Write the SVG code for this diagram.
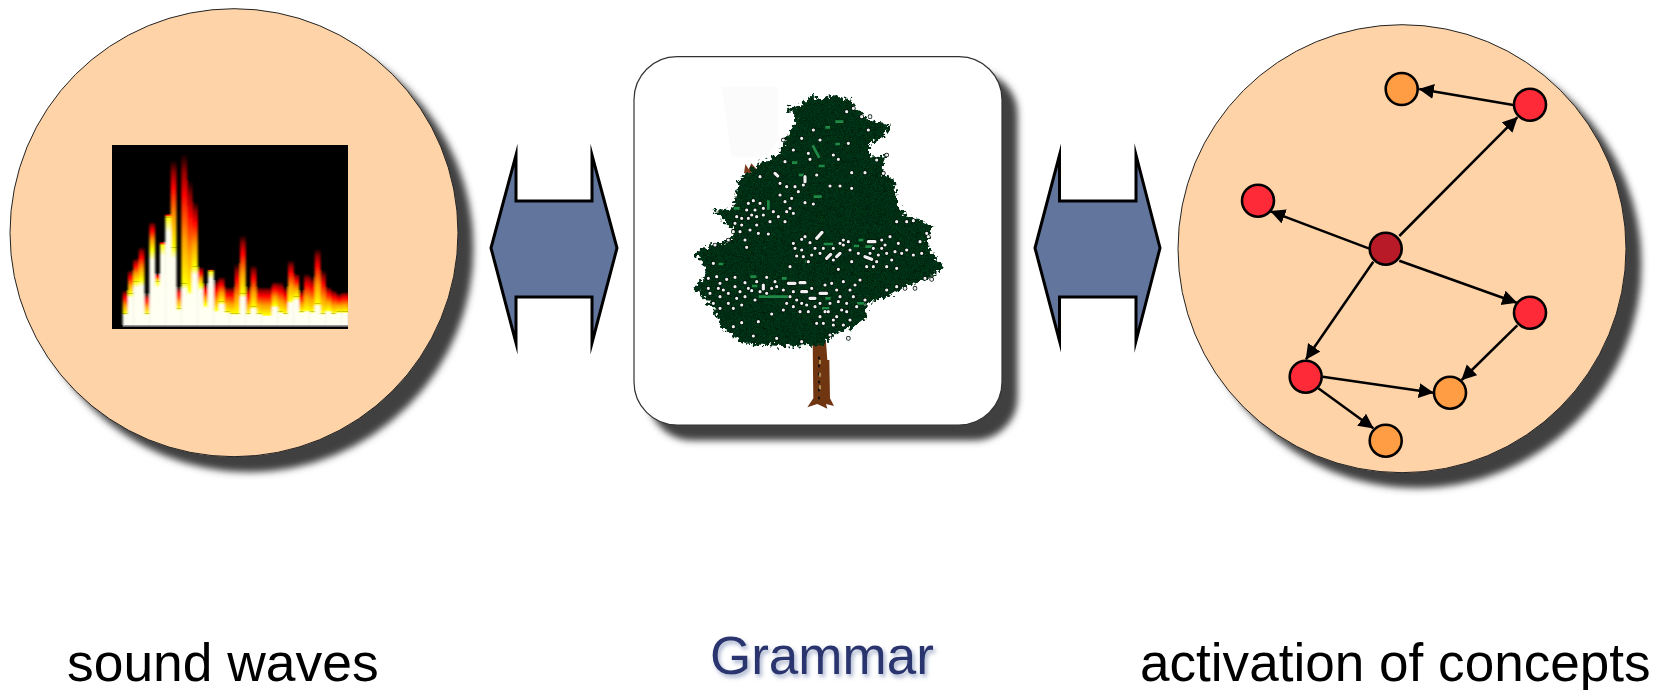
<svg xmlns="http://www.w3.org/2000/svg" width="1658" height="690" viewBox="0 0 1658 690">
<style>
.big{fill:#FFD3A8;stroke:#222;stroke-width:1;filter:url(#shadow)}
.dbl{fill:#62759C;stroke:#000;stroke-width:3;stroke-miterlimit:20}
.red{fill:#FF2A38;stroke:#000;stroke-width:2.6}
.org{fill:#FF9D45;stroke:#000;stroke-width:2.6}
.dark{fill:#B81A28;stroke:#000;stroke-width:2.6}
.con line{stroke:#000;stroke-width:2.5;marker-end:url(#tip)}
.lab{font-family:"Liberation Sans",Arial,sans-serif;fill:#000}
.f{fill:url(#fade);width:17.5px;mix-blend-mode:lighten}
.w{fill:url(#hot);width:17.5px;mix-blend-mode:lighten}
</style>
<defs>
<filter id="shadow" x="-10%" y="-10%" width="125%" height="125%"><feDropShadow dx="15" dy="15" stdDeviation="3.6" flood-color="#3f3f3f"/></filter>
<filter id="tshadow" x="-10%" y="-20%" width="120%" height="150%"><feDropShadow dx="2" dy="3" stdDeviation="2" flood-color="#7f8fb5" flood-opacity=".7"/></filter>
<filter id="soft" x="-2%" y="-2%" width="104%" height="104%"><feGaussianBlur stdDeviation="2.4 1.6"/></filter>
<filter id="rough" x="-5%" y="-5%" width="110%" height="110%"><feTurbulence type="fractalNoise" baseFrequency=".09" numOctaves="2" seed="4" result="n"/><feDisplacementMap in="SourceGraphic" in2="n" scale="34" xChannelSelector="R" yChannelSelector="G"/></filter>
<linearGradient id="fade" x1="0" y1="0" x2="0" y2="1"><stop offset="0" stop-color="#000"/><stop offset=".14" stop-color="#900000"/><stop offset=".32" stop-color="#f00"/><stop offset=".66" stop-color="#ffa000"/><stop offset="1" stop-color="#ff0"/></linearGradient>
<linearGradient id="hot" x1="0" y1="0" x2="0" y2="1"><stop offset="0" stop-color="#ff0"/><stop offset=".14" stop-color="#fffff0"/><stop offset="1" stop-color="#fffff4"/></linearGradient>
<pattern id="leaf" width="8" height="8" patternUnits="userSpaceOnUse"><rect width="8" height="8" fill="#04401c"/><rect width="4" height="4" fill="#011a0a"/><rect x="4" y="4" width="4" height="4" fill="#011a0a"/></pattern>
<marker id="tip" markerUnits="userSpaceOnUse" markerWidth="16" markerHeight="16" refX="14.5" refY="7.5" orient="auto"><path d="M0 0L15 7.5L0 15z" fill="#000"/></marker>
<path id="dots" fill="none" stroke-linecap="round" d="M580 270h.1M545 295h.1M565 340h.1M570 358h.1M520 330h.1M600 300h.1M640 345h.1M655 358h.1M685 310h.1M695 398h.1M735 398h.1M590 405h.1M555 410v15M495 365h.1M465 400l8 8M420 410h.1M480 430h.1M500 440h.1M525 440h.1M550 435h.1M535 455h.1M630 438h.1M660 438h.1M695 445h.1M515 475h.1M480 465h.1M555 488h.1M580 492h.1M495 485h.1M510 505h.1M520 520h.1M400 482h.1M420 490h.1M380 510h.1M405 510h.1M430 505h.1M350 530h.1M365 535h.1M385 535h.1M410 530h.1M430 525h.1M475 530h.1M495 545h.1M345 550h.1M365 555h.1M410 555h.1M390 570h.1M415 580h.1M445 582h.1M360 575h.1M375 600h.1M380 622h.1M325 600h.1M285 615h.1M545 598h.1M570 608h.1M590 595l16-18M545 630h.1M525 625h.1M530 648h.1M550 650h.1M575 645h.1M600 640h.1M620 655l12-12M650 650l10-10M610 625h.1M640 625h.1M670 600h.1M690 630h.1M670 615h.1M745 605h20M785 600h.1M810 590h.1M795 615h.1M760 625h.1M735 650l20 8M775 645h.1M800 640h.1M825 635h.1M845 640h.1M880 645h.1M770 665h.1M800 680h.1M830 685h.1M655 688h.1M740 680h.1M695 665h.1M510 680h.1M635 730h.1M280 670h.1M265 715h.1M290 710h.1M320 718h.1M345 712h.1M375 728h.1M345 740h.1M325 760h.1M295 745h.1M270 760h.1M300 770h.1M375 770h.1M350 775h.1M325 790h.1M280 790h.1M300 805h.1M410 725h.1M440 712h.1M465 725h.1M505 730h20M540 728h15M430 735v12M455 745h.1M490 750h.1M520 755h.1M545 755h15M395 752h.1M420 755h.1M570 775h15M600 760h20M650 750h.1M690 750h.1M720 720h.1M500 790h.1M520 800h.1M545 790h.1M540 815h.1M565 815h.1M600 790h.1M630 790h.1M655 785h.1M680 790h.1M600 830h.1M625 815h.1M650 830h.1M680 815h.1M610 850h.1M640 855h.1M670 855h.1M690 840h.1M455 822h.1M365 848h.1M340 860h.1M400 888h.1M470 895h.1M545 905h.1M630 885h.1M685 895h.1M735 780h.1M800 750h.1M830 740h.1M855 745h.1M885 745h.1M915 715h.1M935 718h.1M920 580h.1M900 605h.1M925 590h.1M880 542h.1M860 545h.1M830 545h.1M790 400h.1M800 345h.1M770 360h.1M725 230h.1M750 230h.1M745 270h.1M680 215h.1M700 205h.1M490 300h.1M385 490h.1M395 525h.1M450 545h.1M340 575h.1M460 515h.1M500 515h.1M555 590h.1M585 625h.1M520 610h.1M565 665h.1M640 660h.1M660 610h.1M685 605h.1M715 640h.1M750 640h.1M785 625h.1M815 660h.1M760 680h.1M835 610h.1M860 630h.1M905 640h.1M300 730h.1M265 745h.1M310 750h.1M360 755h.1M385 745h.1M405 780h.1M365 795h.1M340 805h.1M440 760h.1M470 740h.1M510 770h.1M530 780h.1M560 795h.1M585 800h.1M615 815h.1M575 745h.1M615 735h.1M660 770h.1M700 770h.1M710 800h.1M665 810h.1M640 840h.1M590 850h.1M705 735h.1M670 725h.1M490 810h.1M415 845h.1"/>
</defs>

<g id="sound-node">
<circle class="big" cx="234" cy="232.7" r="224"/>
<rect x="112" y="145" width="236" height="184" fill="#000"/>
<clipPath id="specClip"><rect x="-1" y="0" width="745" height="597"/></clipPath>
<g transform="translate(100 130) scale(.33333)" clip-path="url(#specClip)"><g filter="url(#soft)">
<rect class="f" x="68" y="480" width="16" height="70"/><rect class="w" x="68" y="550" width="16" height="35"/>
<rect class="f" x="84" y="420" width="16" height="70"/><rect class="w" x="84" y="490" width="16" height="95"/>
<rect class="f" x="100" y="385" width="16" height="70"/><rect class="w" x="100" y="455" width="16" height="130"/>
<rect class="f" x="116" y="350" width="16" height="100"/><rect class="w" x="116" y="450" width="16" height="135"/>
<rect class="f" x="132" y="490" width="16" height="60"/><rect class="w" x="132" y="550" width="16" height="35"/>
<rect class="f" x="148" y="275" width="16" height="85"/><rect class="w" x="148" y="360" width="16" height="225"/>
<rect class="f" x="164" y="430" width="16" height="25"/><rect class="w" x="164" y="455" width="16" height="130"/>
<rect class="f" x="180" y="335" width="16" height="12"/><rect class="w" x="180" y="345" width="16" height="240"/>
<rect class="f" x="196" y="252" width="16" height="10"/><rect class="w" x="196" y="262" width="16" height="323"/>
<rect class="f" x="212" y="90" width="16" height="262"/><rect class="w" x="212" y="352" width="16" height="233"/>
<rect class="f" x="228" y="470" width="16" height="65"/><rect class="w" x="228" y="535" width="16" height="50"/>
<rect class="f" x="244" y="70" width="16" height="390"/><rect class="w" x="244" y="460" width="16" height="125"/>
<rect class="f" x="260" y="150" width="16" height="330"/><rect class="w" x="260" y="480" width="16" height="105"/>
<rect class="f" x="276" y="215" width="16" height="195"/><rect class="w" x="276" y="410" width="16" height="175"/>
<rect class="f" x="292" y="410" width="16" height="55"/><rect class="w" x="292" y="465" width="16" height="120"/>
<rect class="f" x="308" y="460" width="16" height="65"/><rect class="w" x="308" y="525" width="16" height="60"/>
<rect class="f" x="324" y="418" width="16" height="6"/><rect class="w" x="324" y="424" width="16" height="161"/>
<rect class="f" x="340" y="450" width="16" height="90"/><rect class="w" x="340" y="540" width="16" height="45"/>
<rect class="f" x="356" y="440" width="16" height="75"/><rect class="w" x="356" y="515" width="16" height="70"/>
<rect class="f" x="372" y="470" width="16" height="75"/><rect class="w" x="372" y="545" width="16" height="40"/>
<rect class="f" x="388" y="470" width="16" height="80"/><rect class="w" x="388" y="550" width="16" height="35"/>
<rect class="f" x="404" y="400" width="16" height="150"/><rect class="w" x="404" y="550" width="16" height="35"/>
<rect class="f" x="420" y="315" width="16" height="175"/><rect class="w" x="420" y="490" width="16" height="95"/>
<rect class="f" x="436" y="470" width="16" height="80"/><rect class="w" x="436" y="550" width="16" height="35"/>
<rect class="f" x="452" y="405" width="16" height="125"/><rect class="w" x="452" y="530" width="16" height="55"/>
<rect class="f" x="468" y="470" width="16" height="80"/><rect class="w" x="468" y="550" width="16" height="35"/>
<rect class="f" x="484" y="470" width="16" height="85"/><rect class="w" x="484" y="555" width="16" height="30"/>
<rect class="f" x="500" y="470" width="16" height="85"/><rect class="w" x="500" y="555" width="16" height="30"/>
<rect class="f" x="516" y="455" width="16" height="70"/><rect class="w" x="516" y="525" width="16" height="60"/>
<rect class="f" x="532" y="455" width="16" height="90"/><rect class="w" x="532" y="545" width="16" height="40"/>
<rect class="f" x="548" y="470" width="16" height="80"/><rect class="w" x="548" y="550" width="16" height="35"/>
<rect class="f" x="564" y="390" width="16" height="120"/><rect class="w" x="564" y="510" width="16" height="75"/>
<rect class="f" x="580" y="430" width="16" height="70"/><rect class="w" x="580" y="500" width="16" height="85"/>
<rect class="f" x="596" y="480" width="16" height="65"/><rect class="w" x="596" y="545" width="16" height="40"/>
<rect class="f" x="612" y="430" width="16" height="110"/><rect class="w" x="612" y="540" width="16" height="45"/>
<rect class="f" x="628" y="440" width="16" height="105"/><rect class="w" x="628" y="545" width="16" height="40"/>
<rect class="f" x="644" y="355" width="16" height="165"/><rect class="w" x="644" y="520" width="16" height="65"/>
<rect class="f" x="660" y="420" width="16" height="130"/><rect class="w" x="660" y="550" width="16" height="35"/>
<rect class="f" x="676" y="470" width="16" height="70"/><rect class="w" x="676" y="540" width="16" height="45"/>
<rect class="f" x="692" y="480" width="16" height="70"/><rect class="w" x="692" y="550" width="16" height="35"/>
<rect class="f" x="708" y="490" width="16" height="55"/><rect class="w" x="708" y="545" width="16" height="40"/>
<rect class="f" x="724" y="485" width="22" height="60" style="width:24px"/><rect class="w" x="724" y="545" width="22" height="40" style="width:24px"/>
</g>
<rect x="68" y="585" width="676" height="6" fill="#9a9a9a"/>
<rect x="68" y="590" width="676" height="7" fill="#000"/>
</g>
</g>

<g id="grammar-node">
<rect x="634" y="56.7" width="368" height="368.3" rx="43" fill="#fff" stroke="#333" stroke-width="1.2" filter="url(#shadow)"/>
<g transform="translate(620 40) scale(.33333)">
<path d="M305 140H475V300L440 350H335Z" fill="#fbfbfb"/>
<path d="M578 905H618L622 960H628L630 1075L642 1098L618 1092L622 1106L592 1092L562 1102L580 1075Z" fill="#703612"/>
<path d="M597 950V1090" stroke="#111" stroke-width="6" stroke-dasharray="8 16" fill="none"/>
<path d="M600 960V1060" stroke="#b8a060" stroke-width="5" stroke-dasharray="12 26" fill="none"/>
<path d="M372 400L376 372L386 388L394 370L410 388L398 398Z" fill="#7a3a1c"/>
<path filter="url(#rough)" fill="url(#leaf)" d="M500 205L520 200L545 195L580 160L590 180L640 165L690 180L710 210L740 235L770 245L815 255L790 290L750 310L750 350L795 345L790 400L825 425L830 480L850 520L935 555L925 600L925 625L970 680L930 715L860 740L800 770L740 790L740 830L700 860L640 885L610 915L530 920L430 915L370 910L330 880L295 850L285 810L250 770L220 745L260 700L250 670L220 640L260 620L330 600L340 570L300 530L275 510L340 505L345 480L355 420L425 365L475 345L490 310L515 265L530 230Z"/>
<path fill="none" stroke="#1f8a45" stroke-width="8" stroke-linecap="square" d="M650 245h16M620 262h6M580 320l16 30M600 378h10M650 312h6M540 405h8M520 368h8M585 470h16M445 485v20M345 505h10M615 612h20M720 600h6M740 620h14M705 618h8M420 770h50M470 770h30M400 738h8M560 665h6M490 715h6M610 805h14M620 775h8M715 790h14M300 672h6M395 710h10"/>
<use href="#dots" stroke="#02130a" stroke-width="14"/>
<use href="#dots" stroke="#f0f0f0" stroke-width="9.5"/>
</g>
</g>

<g id="sound-to-grammar">
<path class="dbl" d="M491 248L516 155V201H592V155L617 248L592 343V297H516V343Z"/>
</g>
<g id="grammar-to-activation">
<path class="dbl" d="M1035 248L1059.5 155V201H1136V155L1160 248L1136 341V297H1059.5V341Z"/>
</g>

<g id="activation-node">
<circle class="big" cx="1402" cy="248.7" r="224"/>
</g>

<g id="connectors" class="con">
<line x1="1513.3" y1="105" x2="1419.3" y2="89"/>
<line x1="1399.3" y1="236" x2="1517.3" y2="117.3"/>
<line x1="1369.3" y1="248.7" x2="1270.7" y2="211.3"/>
<line x1="1399.3" y1="260.7" x2="1516.7" y2="302.7"/>
<line x1="1373.3" y1="261.7" x2="1306" y2="359.3"/>
<line x1="1517.3" y1="325.3" x2="1461.7" y2="380"/>
<line x1="1322.7" y1="376.7" x2="1433.3" y2="392.7"/>
<line x1="1318.3" y1="388.3" x2="1373.3" y2="428.3"/>
</g>

<g id="concept-1"><circle class="org" cx="1401.7" cy="89" r="16"/></g>
<g id="concept-2"><circle class="red" cx="1530" cy="104.7" r="16"/></g>
<g id="concept-3"><circle class="red" cx="1258" cy="200.7" r="16"/></g>
<g id="concept-4"><circle class="dark" cx="1385.7" cy="248.7" r="16"/></g>
<g id="concept-5"><circle class="red" cx="1530" cy="312.7" r="16"/></g>
<g id="concept-6"><circle class="red" cx="1305.7" cy="376.7" r="16"/></g>
<g id="concept-7"><circle class="org" cx="1450" cy="392.7" r="16"/></g>
<g id="concept-8"><circle class="org" cx="1385.7" cy="440.7" r="16"/></g>

<g id="label-sound"><text class="lab" x="67" y="681" font-size="53.4">sound waves</text></g>
<g id="label-grammar"><text class="lab" x="710" y="674" font-size="53" style="fill:#2A3570" filter="url(#tshadow)">Grammar</text></g>
<g id="label-activation"><text class="lab" x="1140" y="681" font-size="53.1">activation of concepts</text></g>
</svg>
